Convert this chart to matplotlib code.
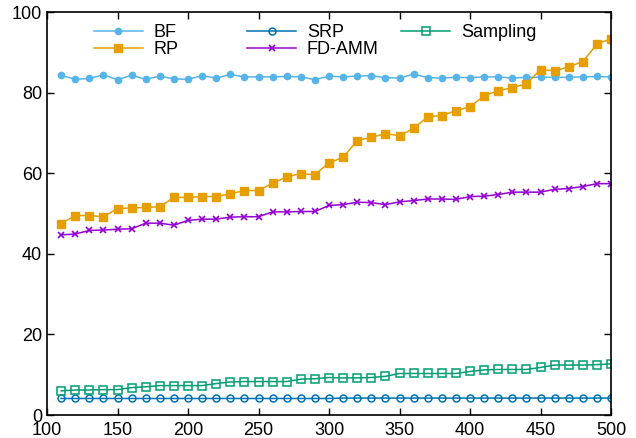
import matplotlib
matplotlib.use('Agg')
import matplotlib.pyplot as plt
import numpy as np

plt.rcParams['font.family'] = ['Liberation Sans', 'DejaVu Sans']

# data
x = list(range(110, 501, 10))

bf = [84.3, 83.3, 83.5, 84.4, 83.2, 84.3, 83.3, 84.1, 83.4, 83.3,
      84.2, 83.6, 84.5, 83.9, 83.9, 83.9, 84.0, 83.9, 83.2, 84.1,
      83.9, 84.1, 84.2, 83.7, 83.6, 84.6, 83.7, 83.6, 83.8, 83.7,
      83.9, 83.9, 83.6, 83.8, 83.8, 83.8, 83.8, 83.9, 84.0, 83.9]
rp = [47.5, 49.5, 49.5, 49.2, 51.2, 51.4, 51.5, 51.7, 54.0, 54.0,
      54.2, 54.2, 54.9, 55.7, 55.7, 57.5, 59.1, 59.9, 59.6, 62.6,
      63.9, 68.1, 68.9, 69.8, 69.3, 71.1, 74.0, 74.3, 75.5, 76.5,
      79.2, 80.5, 81.2, 82.2, 85.7, 85.4, 86.4, 87.7, 92.0, 93.4]
srp = [4.1] * 20 + [4.2] * 20
fd_amm = [44.7, 44.9, 45.8, 45.9, 46.1, 46.2, 47.6, 47.6, 47.1, 48.3,
          48.6, 48.6, 49.1, 49.2, 49.2, 50.4, 50.4, 50.5, 50.5, 52.0,
          52.2, 52.8, 52.7, 52.2, 52.9, 53.2, 53.6, 53.6, 53.5, 54.2,
          54.3, 54.7, 55.3, 55.3, 55.3, 56.0, 56.2, 56.7, 57.4, 57.4]
sampling = [6.0, 6.2, 6.2, 6.3, 6.3, 6.8, 7.0, 7.3, 7.3, 7.3,
            7.3, 7.8, 8.2, 8.3, 8.3, 8.3, 8.3, 8.9, 9.0, 9.3,
            9.2, 9.2, 9.3, 9.6, 10.3, 10.3, 10.3, 10.3, 10.3, 10.8,
            11.2, 11.3, 11.3, 11.3, 11.8, 12.4, 12.4, 12.4, 12.5, 12.7]

fig = plt.figure(figsize=(6.36, 4.38), dpi=100)
ax = fig.add_axes([0.0739, 0.0525, 0.8868, 0.9201])

l_bf, = ax.plot(x, bf, color='#56b4e9', marker='o', markersize=4.5, linewidth=1.1, label='BF')
l_rp, = ax.plot(x, rp, color='#e69f00', marker='s', markersize=5.5, linewidth=1.1, label='RP')
l_srp, = ax.plot(x, srp, color='#0072b2', marker='o', markersize=5, markerfacecolor='none',
                 markeredgewidth=1.1, linewidth=1.1, label='SRP')
l_fd, = ax.plot(x, fd_amm, color='#9400d3', marker='x', markersize=5, markeredgewidth=1.2,
                linewidth=1.1, label='FD-AMM')
l_sa, = ax.plot(x, sampling, color='#009e73', marker='s', markersize=5.5, markerfacecolor='none',
                markeredgewidth=1.1, linewidth=1.1, label='Sampling')

ax.set_xlim(100, 500)
ax.set_ylim(0, 100)
ax.set_xticks(np.arange(100, 501, 50))
ax.set_yticks(np.arange(0, 101, 20))
ax.tick_params(direction='in', top=True, right=True, labelsize=13, length=5, width=1)
ax.tick_params(axis='x', pad=5)
for s in ax.spines.values():
    s.set_linewidth(1.2)

# gnuplot-like key: fixed-width columns, one legend per column
columns = [([l_bf, l_rp], 0.083), ([l_srp, l_fd], 0.355), ([l_sa], 0.628)]
legends = []
for handles, xpos in columns:
    leg = ax.legend(handles=handles, loc='upper left', bbox_to_anchor=(xpos, 0.970),
                    frameon=False, fontsize=13, handlelength=2.7, handletextpad=0.6,
                    labelspacing=0.0, borderpad=0, borderaxespad=0)
    legends.append(leg)
for leg in legends[:-1]:
    ax.add_artist(leg)

fig.savefig('out.png', dpi=100)
